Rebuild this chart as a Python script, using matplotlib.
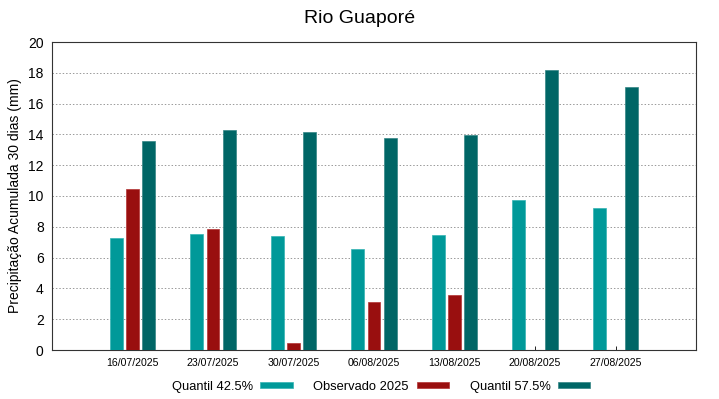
#!/usr/bin/env python3

import numpy as np
import matplotlib.pyplot as plt
import matplotlib.transforms as mtransforms

plt.rcParams['font.family'] = ['Liberation Sans', 'DejaVu Sans']

# data
dates = ["16/07/2025", "23/07/2025", "30/07/2025", "06/08/2025",
         "13/08/2025", "20/08/2025", "27/08/2025"]
q425 = [7.25, 7.53, 7.4, 6.56, 7.45, 9.72, 9.24]
obs2025 = [10.43, 7.86, 0.45, 3.1, 3.57, 0, 0]
q575 = [13.55, 14.27, 14.18, 13.77, 13.96, 18.16, 17.08]

fig = plt.figure(figsize=(7.19, 3.99), dpi=100)
ax = fig.add_axes([52 / 719, 1 - 350 / 399, 644 / 719, 308 / 399])

x = np.arange(len(dates))
w = 0.16
ax.bar(x - 0.2, q425, w, color="#009999", edgecolor="#33b3b3", linewidth=0.5,
       label="Quantil 42.5%", zorder=3)
ax.bar(x, obs2025, w, color="#990f0f", edgecolor="#b33333", linewidth=0.5,
       label="Observado 2025", zorder=3)
ax.bar(x + 0.2, q575, w, color="#006666", edgecolor="#338585", linewidth=0.5,
       label="Quantil 57.5%", zorder=3)

ax.set_xlim(-1, 7)
ax.set_ylim(0, 20)
ax.set_yticks(range(0, 21, 2))
ax.set_xticks(x)
ax.set_xticklabels(dates, fontsize=7.6)
# gnuplot puts the labels a bit right of the tick
offset = mtransforms.ScaledTranslation(7 / 100, 0, fig.dpi_scale_trans)
for lbl in ax.get_xticklabels():
    lbl.set_transform(lbl.get_transform() + offset)
ax.tick_params(axis='x', direction='in', length=3, pad=6, width=0.6)
ax.tick_params(axis='y', length=0, labelsize=10, pad=6)
ax.grid(axis='y', linestyle=(0, (1.5, 2)), color="#999999", linewidth=0.7, zorder=0)
for s in ax.spines.values():
    s.set_linewidth(0.8)
    s.set_color("#333333")

ax.set_ylabel("Precipitação Acumulada 30 dias (mm)", fontsize=10)
fig.suptitle("Rio Guaporé", fontsize=14, y=0.975)

fig.legend(loc='center', bbox_to_anchor=(381 / 719, 1 - 387 / 399), ncol=3,
           frameon=False, markerfirst=False, fontsize=9.3,
           handlelength=2.5, handleheight=0.35, columnspacing=1.6,
           handletextpad=0.6)

plt.savefig("out.png", dpi=100)
